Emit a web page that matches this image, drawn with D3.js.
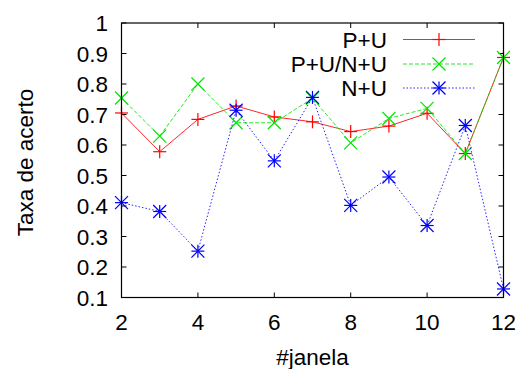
<!DOCTYPE html>
<html><head><meta charset="utf-8">
<script src="https://cdn.jsdelivr.net/npm/d3@7"></script>
<style>
html,body{margin:0;padding:0;background:#fff;}
svg text{font-family:"Liberation Sans",Arial,Helvetica,sans-serif;font-size:22.5px;fill:#000;}
</style></head>
<body>
<svg id="c" width="521" height="369"></svg>
<script>
const janelas = [2,3,4,5,6,7,8,9,10,11,12];
const seriesNames = ["P+U","P+U/N+U","N+U"];
const valPU    = [0.705,0.578,0.684,0.728,0.692,0.676,0.644,0.662,0.704,0.572,0.887];
const valPUNU  = [0.754,0.629,0.800,0.673,0.673,0.753,0.607,0.687,0.720,0.572,0.887];
const valNU    = [0.411,0.382,0.252,0.714,0.548,0.756,0.402,0.495,0.336,0.664,0.128];
const xTicks = [2,4,6,8,10,12];
const yTicks = [0.1,0.2,0.3,0.4,0.5,0.6,0.7,0.8,0.9,1];
const colors = ["#ff0000","#00e600","#0000ff"];
const dashes = [null,"4,2","1.5,2"];
const markers = ["plus","cross","star"];

const svg = d3.select("#c");
const L=121.5, R=503.5, T=23, B=297.5;
const x = d3.scaleLinear().domain([2,12]).range([L,R]);
const y = d3.scaleLinear().domain([0.1,1]).range([B,T]);

const tl=5;
const g = svg.append("g");
xTicks.forEach(v=>{
  g.append("line").attr("x1",x(v)).attr("x2",x(v)).attr("y1",B).attr("y2",B-tl).attr("stroke","#000");
  g.append("line").attr("x1",x(v)).attr("x2",x(v)).attr("y1",T).attr("y2",T+tl).attr("stroke","#000");
  g.append("text").attr("x",x(v)).attr("y",330).attr("text-anchor","middle").text(d3.format("d")(v));
});
yTicks.forEach(v=>{
  g.append("line").attr("x1",L).attr("x2",L+tl).attr("y1",y(v)).attr("y2",y(v)).attr("stroke","#000");
  g.append("line").attr("x1",R).attr("x2",R-tl).attr("y1",y(v)).attr("y2",y(v)).attr("stroke","#000");
  g.append("text").attr("x",108).attr("y",y(v)+8).attr("text-anchor","end").text(v===1?"1":d3.format(".1f")(v));
});

function marker(sel,type,cx,cy,col){
  const s=6.5;
  const grp = sel.append("g").attr("stroke",col).attr("stroke-width",1.2).attr("fill","none");
  let segs=[];
  if(type==="plus") segs=[[-s,0,s,0],[0,-s,0,s]];
  else if(type==="cross") segs=[[-s,-s,s,s],[-s,s,s,-s]];
  else segs=[[-s,0,s,0],[0,-s,0,s],[-s,-s,s,s],[-s,s,s,-s]];
  segs.forEach(q=>grp.append("line").attr("x1",cx+q[0]).attr("y1",cy+q[1]).attr("x2",cx+q[2]).attr("y2",cy+q[3]));
}

const data=[valPU,valPUNU,valNU];
const line=d3.line().x((d,i)=>x(janelas[i])).y(d=>y(d));
const plot = svg.append("g");
data.forEach((vals,k)=>{
  const p = plot.append("path").datum(vals).attr("d",line).attr("fill","none")
    .attr("stroke",colors[k]).attr("stroke-width",1).attr("stroke-opacity",0.85);
  if(dashes[k]) p.attr("stroke-dasharray",dashes[k]);
  vals.forEach((v,i)=>marker(plot,markers[k],x(janelas[i]),y(v),colors[k]));
});

const legY=[39.5,64,88];
seriesNames.forEach((n,k)=>{
  svg.append("text").attr("x",387).attr("y",legY[k]+8).attr("text-anchor","end").text(n);
  const l=svg.append("line").attr("x1",403).attr("x2",475).attr("y1",legY[k]).attr("y2",legY[k])
    .attr("stroke",colors[k]).attr("stroke-width",1).attr("stroke-opacity",0.85);
  if(dashes[k]) l.attr("stroke-dasharray",dashes[k]);
  marker(svg,markers[k],439,legY[k],colors[k]);
});

svg.append("rect").attr("x",L).attr("y",T).attr("width",R-L).attr("height",B-T)
  .attr("fill","none").attr("stroke","#000").attr("stroke-width",1.2);

svg.append("text").attr("x",312.5).attr("y",365).attr("text-anchor","middle").text("#janela");
svg.append("text").attr("transform","translate(33,162.5) rotate(-90)").attr("text-anchor","middle").text("Taxa de acerto");
</script>
</body></html>
